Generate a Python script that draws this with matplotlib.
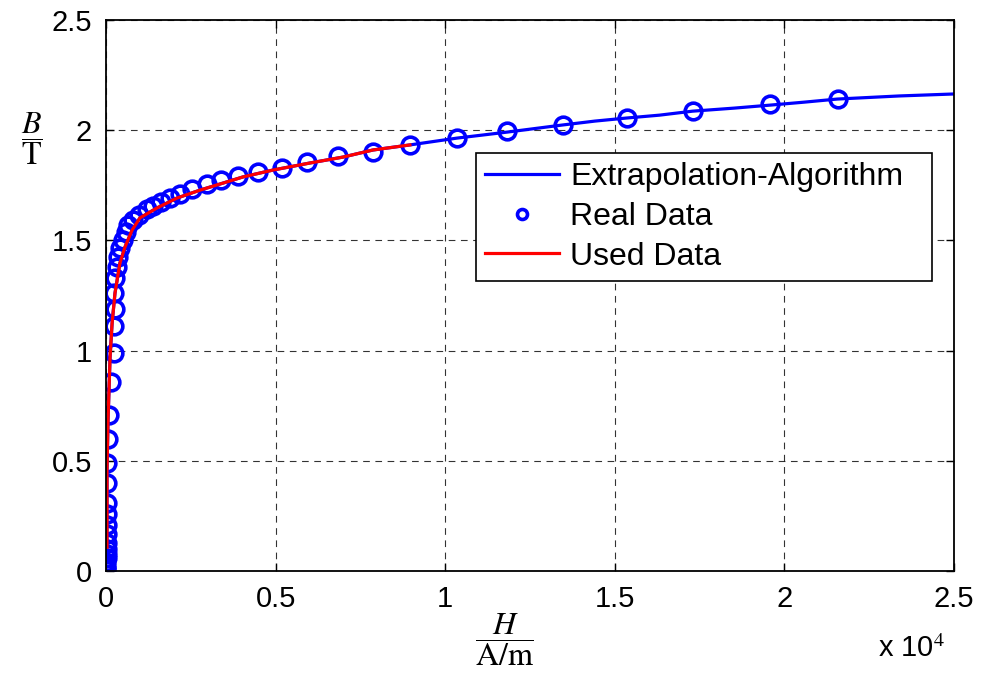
import matplotlib
matplotlib.use("Agg")
import matplotlib.pyplot as plt
from matplotlib.ticker import FuncFormatter

plt.rcParams['font.family'] = ['Liberation Sans', 'DejaVu Sans']
plt.rcParams['mathtext.fontset'] = 'stix'

# measured points (H in A/m, B in T)
real_H = [5, 8, 10, 12, 15, 18, 20, 22, 25, 28, 30, 32,
          35, 40, 60, 90, 150, 240, 230, 260, 250, 280, 320, 350,
          410, 500, 590, 650, 800, 970, 1210, 1390, 1620, 1890, 2180, 2540,
          2980, 3390, 3890, 4480, 5190, 5930, 6840, 7870, 8960,
          10350, 11820, 13470, 15360, 17300, 19570, 21580]
real_B = [0.005, 0.015, 0.025, 0.04, 0.06, 0.08, 0.1, 0.13, 0.17, 0.21, 0.26, 0.31,
          0.40, 0.49, 0.60, 0.71, 0.86, 0.99, 1.11, 1.19, 1.26, 1.33, 1.38, 1.425,
          1.466, 1.502, 1.538, 1.570, 1.593, 1.615, 1.642, 1.656, 1.674, 1.692,
          1.711, 1.733, 1.756, 1.774, 1.792, 1.810, 1.829, 1.856, 1.883, 1.901,
          1.933, 1.965, 1.996, 2.024, 2.055, 2.087, 2.119, 2.142]

# subset actually used for the fit
used_H = [30, 30, 60, 120, 180, 265, 410, 560, 770, 1000, 1500, 2090, 2770,
          3450, 4040, 4920, 6010, 6990, 7870, 8960]
used_B = [0.109, 0.458, 0.685, 0.971, 1.125, 1.261, 1.397, 1.470, 1.547, 1.602,
          1.647, 1.692, 1.728, 1.760, 1.788, 1.819, 1.851, 1.878, 1.910, 1.933]

# extrapolated tail
tail_H = [10350, 11820, 13440, 14410, 15350, 16320, 17290, 18530, 19620,
          20590, 21560, 23380, 25000]
tail_B = [1.964, 1.991, 2.023, 2.041, 2.055, 2.068, 2.086, 2.100, 2.114,
          2.127, 2.141, 2.155, 2.164]

ext_H = used_H + tail_H
ext_B = used_B + tail_B

fig = plt.figure(figsize=(9.86, 6.85), dpi=100)
ax = fig.add_axes([0.1075, 0.166, 0.86, 0.805])

ax.plot(ext_H, ext_B, color='#0000ff', lw=2.3, label='Extrapolation-Algorithm')
ax.plot(real_H, real_B, 'o', ms=12, mfc='none', mec='#0000ff',
        mew=2.6, label='Real Data')
ax.plot(used_H, used_B, color='#ff0000', lw=2.3, label='Used Data')

ax.set_xlim(0, 25000)
ax.set_ylim(0, 2.5)
ax.set_xticks([0, 5000, 10000, 15000, 20000, 25000])
ax.set_yticks([0, 0.5, 1, 1.5, 2, 2.5])
ax.xaxis.set_major_formatter(FuncFormatter(lambda v, p: f"{v / 1e4:g}"))
ax.yaxis.set_major_formatter(FuncFormatter(lambda v, p: f"{v:g}"))
ax.tick_params(direction='in', length=6, width=1, labelsize=21, pad=10,
               top=True, right=True)
ax.grid(True, color='black', ls=(0, (6, 5)), lw=0.8, alpha=0.8)
for s in ax.spines.values():
    s.set_linewidth(1.3)

leg = ax.legend(loc='upper left', bbox_to_anchor=(0.436, 0.519, 0.538, 0.240),
                mode='expand', fontsize=23,
                frameon=True, fancybox=False, edgecolor='black', framealpha=1,
                borderpad=0.3, labelspacing=0.3, handlelength=2.3,
                handletextpad=0.35, borderaxespad=0, markerscale=0.6)
leg.get_frame().set_linewidth(1.2)

fig.text(0.032, 0.798, r'$\dfrac{B}{\mathrm{T}}$', fontsize=23,
         ha='center', va='center')
fig.text(0.512, 0.066, r'$\dfrac{H}{\mathrm{A/m}}$', fontsize=23,
         ha='center', va='center')
fig.text(0.925, 0.053, r'x 10$^{4}$', fontsize=21, ha='center', va='center')

fig.savefig('out.png', dpi=100)
